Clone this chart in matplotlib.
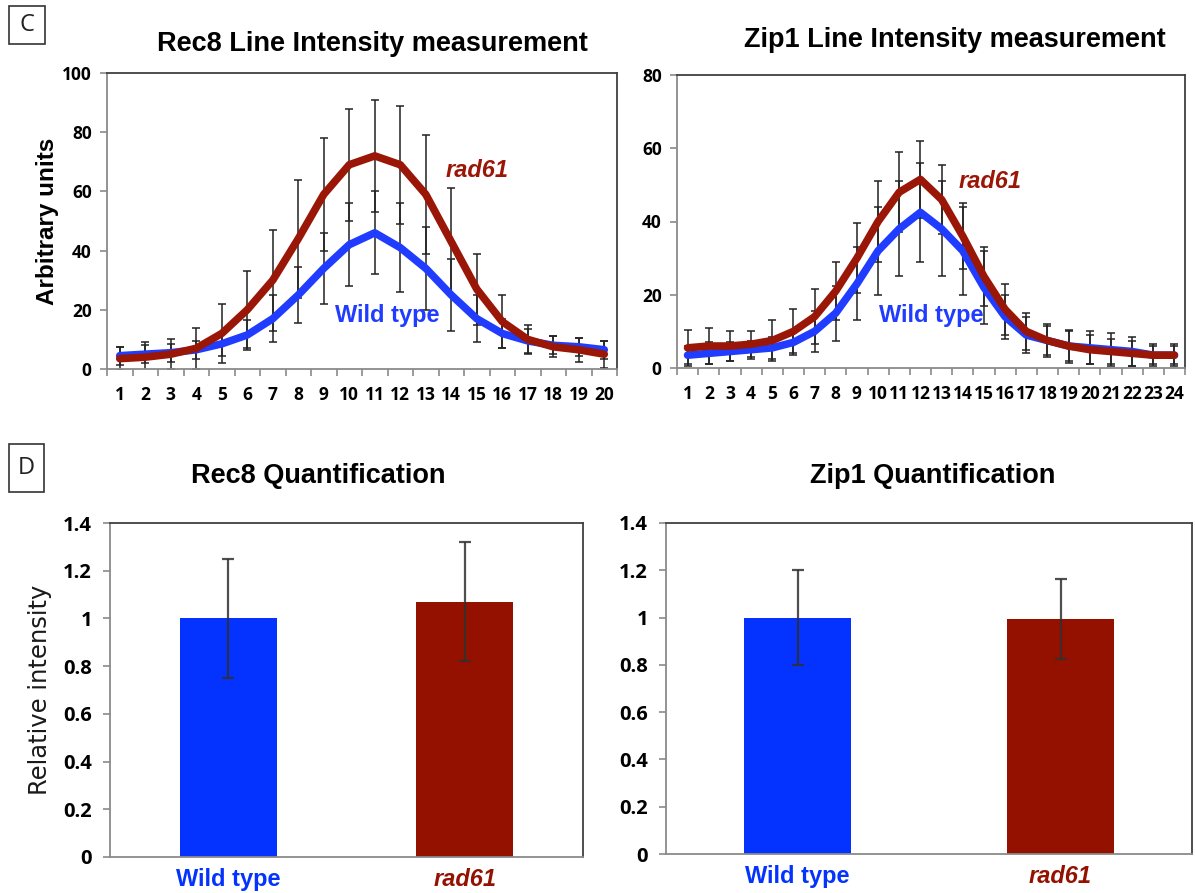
import numpy as np
import matplotlib
matplotlib.use("Agg")
import matplotlib.pyplot as plt
from matplotlib.patches import Rectangle

# Rec8 line intensity (positions 1-20)
rec8_pos = list(range(1, 21))
rec8_wt = [4.5, 5, 5.5, 6.5, 8.5, 11.5, 17, 25, 34, 42, 46, 41, 34, 25, 17, 12, 9.5, 8, 7.5, 6.5]
rec8_wt_err = [3, 3, 3, 3, 4, 5, 8, 9.5, 12, 14, 14, 15, 14, 12, 8, 5, 4, 3, 3, 3]
rec8_rad61 = [3.5, 4, 5, 7, 12, 20, 30, 44, 59, 69, 72, 69, 59, 43, 27, 16, 10, 7.5, 6.5, 5]
rec8_rad61_err = [4, 5, 5, 7, 10, 13, 17, 20, 19, 19, 19, 20, 20, 18, 12, 9, 5, 3.5, 4, 4.5]

# Zip1 line intensity (positions 1-24)
zip1_pos = list(range(1, 25))
zip1_wt = [3.5, 4, 4.5, 5, 5.5, 7, 10, 15, 23, 32, 38, 42.5, 38, 32, 22, 14, 9, 7.5, 6, 5.5, 5, 4.5, 3.5, 3.5]
zip1_wt_err = [2.5, 3, 2.5, 2.5, 3, 3.5, 5.5, 7.5, 10, 12, 13, 13.5, 13, 12, 10, 6, 5, 4.5, 4.5, 4.5, 4.5, 4, 3, 3]
zip1_rad61 = [5.5, 6, 6, 6.5, 7.5, 10, 14, 21, 30, 40, 48, 51.5, 46, 36, 25, 16, 10, 7.5, 6, 5, 4.5, 4, 3.5, 3.5]
zip1_rad61_err = [5, 5, 4, 3.5, 5.5, 6, 7.5, 8, 9.5, 11, 11, 10.5, 9.5, 9, 8, 7, 5, 4, 4, 4, 3.5, 3.5, 2.5, 2.5]

# Quantification bars
strains = ["Wild type", "rad61"]
rec8_quant = [1.0, 1.07]
rec8_quant_err = [0.25, 0.25]
zip1_quant = [1.0, 0.995]
zip1_quant_err = [0.2, 0.17]

BLUE_LINE = "#1f3cff"
RED_LINE = "#9a1606"
BLUE_BAR = "#0433ff"
RED_BAR = "#941100"

TICK_FONT = "Open Sans"
TITLE_FONT = "Liberation Sans"

W, H = 1195, 893


def px_axes(fig, left, top, right, bottom):
    return fig.add_axes([left / W, 1 - bottom / H, (right - left) / W, (bottom - top) / H])


def style_spines(ax):
    ax.spines["left"].set_color("#8a8a8a")
    ax.spines["bottom"].set_color("#8a8a8a")
    ax.spines["top"].set_color("#404040")
    ax.spines["right"].set_color("#404040")
    for s in ax.spines.values():
        s.set_linewidth(1.3)


def line_panel(ax, pos, wt, wt_err, mut, mut_err, ymax):
    ax.errorbar(pos, mut, yerr=mut_err, fmt="none", ecolor="#222222",
                elinewidth=1.1, capsize=3.2, capthick=1.1, zorder=2)
    ax.errorbar(pos, wt, yerr=wt_err, fmt="none", ecolor="#222222",
                elinewidth=1.1, capsize=3.2, capthick=1.1, zorder=2)
    ax.plot(pos, wt, color=BLUE_LINE, lw=5.5, solid_joinstyle="round",
            solid_capstyle="round", zorder=3)
    ax.plot(pos, mut, color=RED_LINE, lw=5.5, solid_joinstyle="round",
            solid_capstyle="round", zorder=4)
    ax.set_xlim(0.5, len(pos) + 0.5)
    ax.set_ylim(0, ymax)
    ax.set_yticks(np.arange(0, ymax + 1, 20))
    ax.set_xticks(pos)
    ax.set_xticks(np.arange(0.5, len(pos) + 1, 1), minor=True)
    ax.tick_params(axis="x", which="major", length=0, pad=12)
    ax.tick_params(axis="x", which="minor", length=5, color="#8a8a8a", width=1.2)
    ax.tick_params(axis="y", length=5, color="#8a8a8a", width=1.2, pad=6)
    for lab in ax.get_xticklabels() + ax.get_yticklabels():
        lab.set_fontfamily(TICK_FONT)
        lab.set_fontweight("bold")
        lab.set_fontsize(12.5)
    style_spines(ax)


def bar_panel(ax, vals, errs):
    x = np.arange(len(strains))
    ax.bar(x, vals, width=0.41, color=[BLUE_BAR, RED_BAR], zorder=2)
    ax.errorbar(x, vals, yerr=errs, fmt="none", ecolor="#303030", alpha=0.85,
                elinewidth=1.6, capsize=4, capthick=1.6, zorder=3)
    ax.set_xlim(-0.5, 1.5)
    ax.set_ylim(0, 1.4)
    ax.set_yticks(np.arange(0, 1.41, 0.2))
    ax.set_yticklabels(["0", "0.2", "0.4", "0.6", "0.8", "1", "1.2", "1.4"])
    ax.set_xticks(x)
    ax.set_xticklabels(strains)
    ax.tick_params(axis="x", length=0, pad=8)
    ax.tick_params(axis="y", length=5, color="#8a8a8a", width=1.2, pad=8)
    for lab in ax.get_yticklabels():
        lab.set_fontfamily(TICK_FONT)
        lab.set_fontweight("bold")
        lab.set_fontsize(14.5)
    xl = ax.get_xticklabels()
    for lab, c in zip(xl, [BLUE_BAR, RED_BAR]):
        lab.set_fontfamily(TITLE_FONT)
        lab.set_fontweight("bold")
        lab.set_fontsize(17)
        lab.set_color(c)
    xl[1].set_fontstyle("italic")
    style_spines(ax)


def panel_letter(fig, letter, x0, y0, x1, y1):
    fig.add_artist(Rectangle((x0 / W, 1 - y1 / H), (x1 - x0) / W, (y1 - y0) / H,
                             transform=fig.transFigure, fill=False,
                             edgecolor="#333333", lw=1.2))
    fig.text((x0 + x1) / 2 / W, 1 - (y0 + y1) / 2 / H, letter, ha="center",
             va="center", fontsize=17, family="Open Sans", color="#222222")


fig = plt.figure(figsize=(W / 100, H / 100), dpi=100)

ax1 = px_axes(fig, 107, 73, 617, 369)
line_panel(ax1, rec8_pos, rec8_wt, rec8_wt_err, rec8_rad61, rec8_rad61_err, 100)
ax1.set_ylabel("Arbitrary units", fontsize=17.5, fontweight="bold",
               family=TITLE_FONT, labelpad=2)
ax1.text(15.0, 67, "rad61", color=RED_LINE, fontsize=17, fontweight="bold",
         fontstyle="italic", family=TITLE_FONT, ha="center", va="center")
ax1.text(11.5, 18, "Wild type", color=BLUE_LINE, fontsize=17, fontweight="bold",
         family=TITLE_FONT, ha="center", va="center")

ax2 = px_axes(fig, 677, 75, 1185, 368)
line_panel(ax2, zip1_pos, zip1_wt, zip1_wt_err, zip1_rad61, zip1_rad61_err, 80)
ax2.text(15.3, 51, "rad61", color=RED_LINE, fontsize=17, fontweight="bold",
         fontstyle="italic", family=TITLE_FONT, ha="center", va="center")
ax2.text(12.5, 14.3, "Wild type", color=BLUE_LINE, fontsize=17, fontweight="bold",
         family=TITLE_FONT, ha="center", va="center")

ax3 = px_axes(fig, 110, 523, 583, 857)
bar_panel(ax3, rec8_quant, rec8_quant_err)
ax3.set_ylabel("Relative intensity", fontsize=17.5, family="DejaVu Sans",
               color="#1a1a1a", labelpad=8)

ax4 = px_axes(fig, 666, 523, 1192, 854)
bar_panel(ax4, zip1_quant, zip1_quant_err)

title_kw = dict(ha="center", va="center", fontsize=19.5, fontweight="bold",
                family=TITLE_FONT)
fig.text(372 / W, 1 - 44 / H, "Rec8 Line Intensity measurement", **title_kw)
fig.text(955 / W, 1 - 40 / H, "Zip1 Line Intensity measurement", **title_kw)
fig.text(318 / W, 1 - 476 / H, "Rec8 Quantification", **title_kw)
fig.text(933 / W, 1 - 476 / H, "Zip1 Quantification", **title_kw)

panel_letter(fig, "C", 9, 6, 45, 44)
panel_letter(fig, "D", 9, 444, 44, 492)

fig.savefig("out.png", dpi=100)
